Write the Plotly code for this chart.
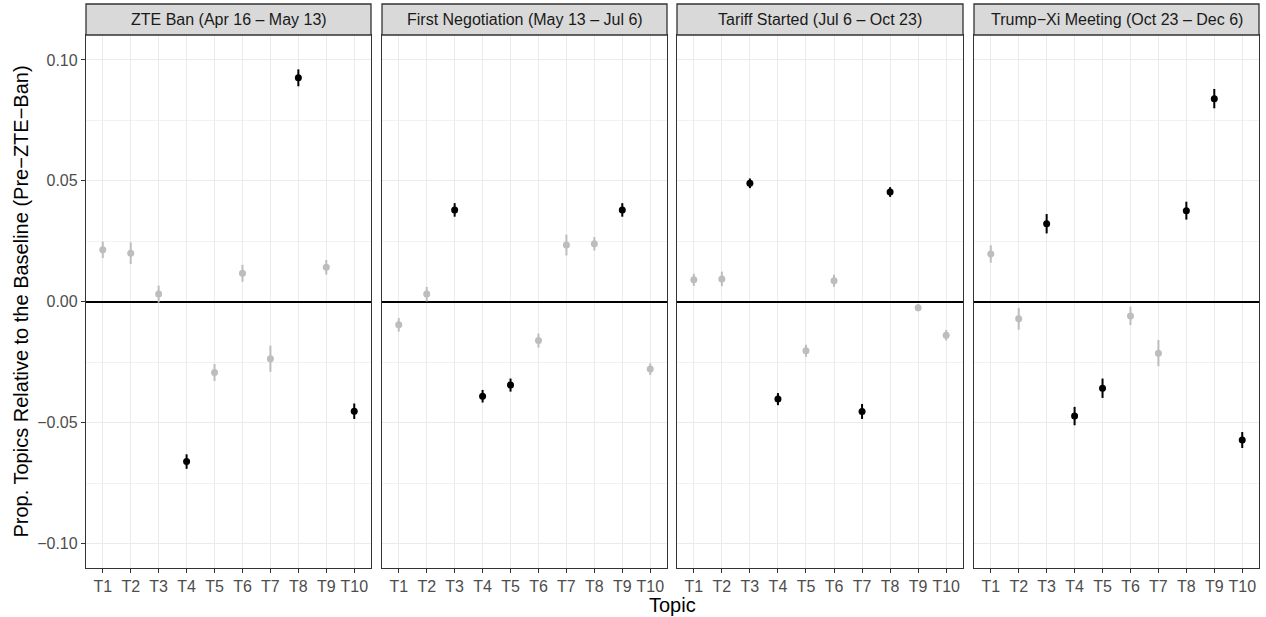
import plotly.graph_objects as go

# Topic labels and period (facet) titles
topics = ["T1", "T2", "T3", "T4", "T5", "T6", "T7", "T8", "T9", "T10"]
periods = [
    "ZTE Ban (Apr 16 – May 13)",
    "First Negotiation (May 13 – Jul 6)",
    "Tariff Started (Jul 6 – Oct 23)",
    "Trump−Xi Meeting (Oct 23 – Dec 6)",
]

# Estimated change in topic proportion, half-width of the interval, significance flag
zte_ban_est = [0.0215, 0.0201, 0.0032, -0.0660, -0.0292, 0.0118, -0.0235, 0.0926, 0.0143, -0.0452]
zte_ban_err = [0.0034, 0.0045, 0.0035, 0.0030, 0.0035, 0.0035, 0.0054, 0.0035, 0.0030, 0.0032]
zte_ban_sig = [0, 0, 0, 1, 0, 0, 0, 1, 0, 1]

negotiation_est = [-0.0095, 0.0032, 0.0380, -0.0390, -0.0344, -0.0160, 0.0235, 0.0240, 0.0380, -0.0278]
negotiation_err = [0.0028, 0.0030, 0.0028, 0.0026, 0.0027, 0.0029, 0.0043, 0.0028, 0.0028, 0.0024]
negotiation_sig = [0, 0, 1, 1, 1, 0, 0, 0, 1, 0]

tariff_est = [0.0091, 0.0095, 0.0490, -0.0402, -0.0202, 0.0087, -0.0453, 0.0454, -0.0024, -0.0138]
tariff_err = [0.0025, 0.0030, 0.0020, 0.0025, 0.0025, 0.0025, 0.0031, 0.0020, 0.0015, 0.0022]
tariff_sig = [0, 0, 1, 1, 0, 0, 1, 1, 0, 0]

meeting_est = [0.0198, -0.0070, 0.0323, -0.0472, -0.0357, -0.0058, -0.0212, 0.0377, 0.0840, -0.0571]
meeting_err = [0.0036, 0.0045, 0.0040, 0.0038, 0.0040, 0.0038, 0.0054, 0.0037, 0.0040, 0.0033]
meeting_sig = [0, 0, 1, 1, 1, 0, 0, 1, 1, 1]

panels = [
    (zte_ban_est, zte_ban_err, zte_ban_sig),
    (negotiation_est, negotiation_err, negotiation_sig),
    (tariff_est, tariff_err, tariff_sig),
    (meeting_est, meeting_err, meeting_sig),
]

W, H = 1266, 617
FONT = "Liberation Sans, Arial, Helvetica, sans-serif"
SIG_COLOR = "#000000"
NS_COLOR = "#bdbdbd"
GRID = "#ebebeb"
BORDER = "#333333"

# panel placement in pixels (left, right), shared top/bottom
panel_px = [(86, 371), (382, 667), (677, 963), (974, 1259)]
plot_top, plot_bottom = 35, 568
strip_top = 4

fig = go.Figure()

for i, (est, err, sig) in enumerate(panels):
    xa = "x" if i == 0 else f"x{i + 1}"
    ya = "y" if i == 0 else f"y{i + 1}"
    for flag, color in ((0, NS_COLOR), (1, SIG_COLOR)):
        xs = [t for t, s in zip(topics, sig) if s == flag]
        ys = [v for v, s in zip(est, sig) if s == flag]
        es = [e for e, s in zip(err, sig) if s == flag]
        fig.add_trace(go.Scatter(
            x=xs, y=ys, mode="markers",
            marker=dict(color=color, size=7, line=dict(width=0)),
            error_y=dict(type="data", array=es, color=color, thickness=2, width=0),
            xaxis=xa, yaxis=ya, showlegend=False, hoverinfo="x+y",
        ))

layout = dict(
    width=W, height=H, autosize=False,
    margin=dict(l=0, r=0, t=0, b=0),
    paper_bgcolor="white", plot_bgcolor="white",
    font=dict(family=FONT, color="#4d4d4d", size=16),
    showlegend=False,
)

ydom = [(H - plot_bottom) / H, (H - plot_top) / H]
shapes = []
annotations = []

for i, (l, r) in enumerate(panel_px):
    xkey = "xaxis" if i == 0 else f"xaxis{i + 1}"
    ykey = "yaxis" if i == 0 else f"yaxis{i + 1}"
    ya = "y" if i == 0 else f"y{i + 1}"
    xa = "x" if i == 0 else f"x{i + 1}"
    layout[xkey] = dict(
        domain=[l / W, r / W], anchor=ya,
        type="category", categoryorder="array", categoryarray=topics,
        range=[-0.6, 9.6],
        showgrid=True, gridcolor=GRID, gridwidth=1.4,
        showline=True, linecolor=BORDER, linewidth=1.3, mirror=True,
        ticks="outside", ticklen=4, tickwidth=1.3, tickcolor=BORDER,
        tickfont=dict(size=16, color="#4d4d4d", family=FONT),
        zeroline=False, fixedrange=True,
    )
    layout[ykey] = dict(
        domain=ydom, anchor=xa,
        range=[-0.110, 0.1103],
        tickmode="array", tickvals=[-0.10, -0.05, 0.0, 0.05, 0.10],
        tickformat=".2f",
        showticklabels=(i == 0),
        ticks="outside" if i == 0 else "",
        ticklen=4, tickwidth=1.3, tickcolor=BORDER,
        tickfont=dict(size=16, color="#4d4d4d", family=FONT),
        showgrid=True, gridcolor=GRID, gridwidth=1.4,
        minor=dict(tickvals=[-0.075, -0.025, 0.025, 0.075], showgrid=True,
                   gridcolor="#f2f2f2", gridwidth=0.8),
        zeroline=True, zerolinecolor="#000000", zerolinewidth=1.8,
        showline=True, linecolor=BORDER, linewidth=1.3, mirror=True,
        fixedrange=True,
    )
    if i > 0:
        layout[ykey]["matches"] = "y"

    # facet strip
    shapes.append(dict(
        type="rect", xref="paper", yref="paper",
        x0=l / W, x1=r / W, y0=(H - plot_top) / H, y1=(H - strip_top) / H,
        fillcolor="#d9d9d9", line=dict(color=BORDER, width=1.3), layer="above",
    ))
    annotations.append(dict(
        text=periods[i], xref="paper", yref="paper",
        x=(l + r) / 2 / W, y=(H - (plot_top + strip_top) / 2) / H,
        xanchor="center", yanchor="middle", showarrow=False,
        font=dict(size=16, color="#1a1a1a", family=FONT),
    ))

# axis titles
annotations.append(dict(
    text="Prop. Topics Relative to the Baseline (Pre−ZTE−Ban)",
    xref="paper", yref="paper", x=20 / W, y=(H - (plot_top + plot_bottom) / 2) / H,
    textangle=-90, xanchor="center", yanchor="middle", showarrow=False,
    font=dict(size=20, color="#000000", family=FONT),
))
annotations.append(dict(
    text="Topic", xref="paper", yref="paper",
    x=(panel_px[0][0] + panel_px[-1][1]) / 2 / W, y=(H - 605) / H,
    xanchor="center", yanchor="middle", showarrow=False,
    font=dict(size=20, color="#000000", family=FONT),
))

layout["shapes"] = shapes
layout["annotations"] = annotations
fig.update_layout(**layout)

fig.write_html("out.html")
